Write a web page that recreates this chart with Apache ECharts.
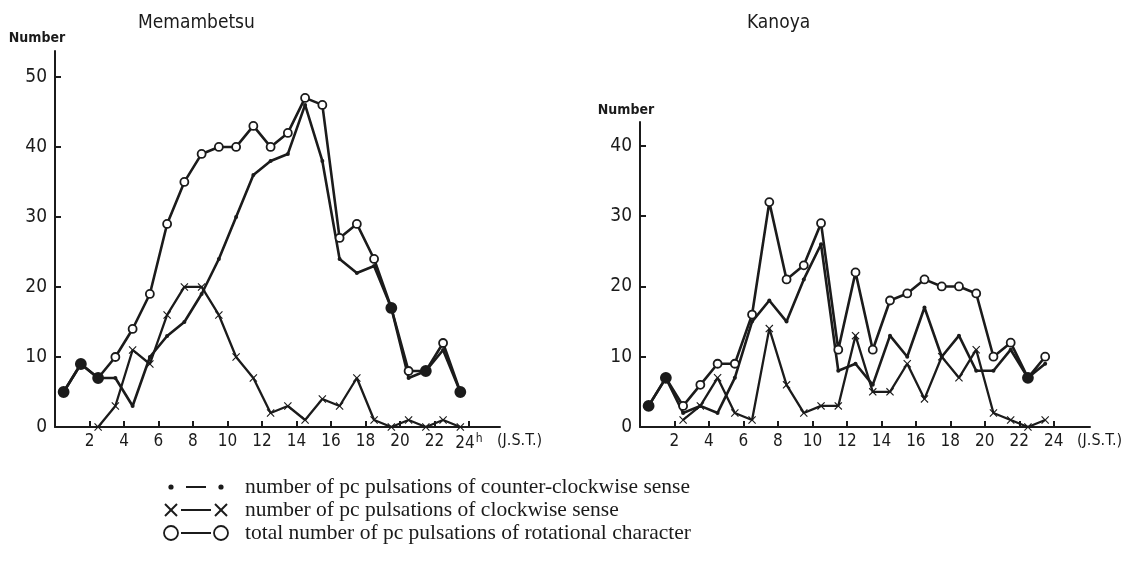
<!DOCTYPE html>
<html lang="en">

<head>
    <meta charset="UTF-8">
    <title>pc pulsations - Memambetsu / Kanoya</title>
    <style>
        html, body { margin: 0; padding: 0; background: #fff; }
        .box { width: 1142px; height: 570px; }
    </style>
</head>

<body>
    <div class="box"></div>

    <script src="https://cdn.jsdelivr.net/npm/echarts@6/dist/echarts.min.js"></script>
    <script>
        // hour of day (J.S.T.), points sit on the half hours
        let hours = [0.5, 1.5, 2.5, 3.5, 4.5, 5.5, 6.5, 7.5, 8.5, 9.5, 10.5, 11.5,
            12.5, 13.5, 14.5, 15.5, 16.5, 17.5, 18.5, 19.5, 20.5, 21.5, 22.5, 23.5]
        let xTicks = [2, 4, 6, 8, 10, 12, 14, 16, 18, 20, 22, 24]
        let memTicks = [0, 10, 20, 30, 40, 50]
        let kanTicks = [0, 10, 20, 30, 40]

        // Memambetsu
        let memTotal = [5, 9, 7, 10, 14, 19, 29, 35, 39, 40, 40, 43, 40, 42, 47, 46, 27, 29, 24, 17, 8, 8, 12, 5]
        let memCcw = [5, 9, 7, 7, 3, 10, 13, 15, 19, 24, 30, 36, 38, 39, 46, 38, 24, 22, 23, 17, 7, 8, 11, 5]
        let memCw = [null, null, 0, 3, 11, 9, 16, 20, 20, 16, 10, 7, 2, 3, 1, 4, 3, 7, 1, 0, 1, 0, 1, 0]

        // Kanoya
        let kanTotal = [3, 7, 3, 6, 9, 9, 16, 32, 21, 23, 29, 11, 22, 11, 18, 19, 21, 20, 20, 19, 10, 12, 7, 10]
        let kanCcw = [3, 7, 2, 3, 2, 7, 15, 18, 15, 21, 26, 8, 9, 6, 13, 10, 17, 10, 13, 8, 8, 11, 7, 9]
        let kanCw = [null, null, 1, 3, 7, 2, 1, 14, 6, 2, 3, 3, 13, 5, 5, 9, 4, 10, 7, 11, 2, 1, 0, 1]

        let legendTexts = [
            "number of pc pulsations of counter-clockwise sense",
            "number of pc pulsations of clockwise sense",
            "total number of pc pulsations of rotational character"
        ]

        const INK = "#1b1b1b"
        const HAND = "'Liberation Sans Narrow', 'DejaVu Sans Condensed', 'Liberation Sans', sans-serif"
        const CROSS = "path://M0,1 L1,0 L5,4 L9,0 L10,1 L6,5 L10,9 L9,10 L5,6 L1,10 L0,9 L4,5 Z"

        let myChart = echarts.init(document.querySelector(".box"))

        function pairs(arr) {
            return hours.map((h, i) => [h, arr[i] == null ? "-" : arr[i]])
        }

        // total marker is drawn filled where it coincides with the ccw point
        function totalData(total, cw) {
            return hours.map((h, i) => {
                let filled = cw[i] == null || cw[i] === 0
                return {
                    value: [h, total[i]],
                    symbolSize: filled ? 10 : 8,
                    itemStyle: { color: filled ? INK : "#fff" }
                }
            })
        }

        function xAxis(gridIndex, max, withH, nameGap) {
            return {
                type: "value",
                gridIndex: gridIndex,
                min: 0,
                max: max,
                splitLine: { show: false },
                axisLine: { lineStyle: { color: INK, width: 2 } },
                axisTick: { inside: true, length: 6, customValues: xTicks, lineStyle: { color: INK, width: 2 } },
                axisLabel: {
                    customValues: xTicks,
                    color: INK,
                    fontFamily: HAND,
                    fontSize: 17,
                    margin: 6,
                    formatter: function (v) {
                        if (withH && v === 24) return "24{h|h}"
                        return String(v)
                    },
                    rich: {
                        h: { fontFamily: HAND, fontSize: 12, color: INK, padding: [0, 0, 10, 1] }
                    }
                },
                name: "(J.S.T.)",
                nameLocation: "end",
                nameGap: nameGap,
                nameTextStyle: {
                    color: INK, fontFamily: HAND, fontSize: 16,
                    verticalAlign: "top", padding: [6, 0, 0, 0]
                }
            }
        }

        function yAxis(gridIndex, max, ticks, padRight, gap) {
            return {
                type: "value",
                gridIndex: gridIndex,
                min: 0,
                max: max,
                splitLine: { show: false },
                axisLine: { lineStyle: { color: INK, width: 2 } },
                axisTick: { inside: true, length: 6, customValues: ticks, lineStyle: { color: INK, width: 2 } },
                axisLabel: { customValues: ticks, color: INK, fontFamily: HAND, fontSize: 19, margin: 8 },
                name: "Number",
                nameLocation: "end",
                nameGap: gap,
                nameTextStyle: {
                    color: INK, fontFamily: HAND, fontSize: 14, fontWeight: "bold",
                    padding: [0, padRight, 0, 0]
                }
            }
        }

        function series(idx, total, ccw, cw) {
            return [{
                name: "ccw",
                type: "line",
                xAxisIndex: idx, yAxisIndex: idx,
                data: pairs(ccw),
                symbol: "circle",
                symbolSize: 4,
                itemStyle: { color: INK },
                lineStyle: { color: INK, width: 2.6 },
                z: 2
            }, {
                name: "cw",
                type: "line",
                xAxisIndex: idx, yAxisIndex: idx,
                data: pairs(cw),
                symbol: CROSS,
                symbolSize: 8,
                itemStyle: { color: INK },
                lineStyle: { color: INK, width: 2.3 },
                z: 3
            }, {
                name: "total",
                type: "line",
                xAxisIndex: idx, yAxisIndex: idx,
                data: totalData(total, cw),
                symbol: "circle",
                showAllSymbol: true,
                itemStyle: { borderColor: INK, borderWidth: 1.8 },
                lineStyle: { color: INK, width: 2.6 },
                z: 4
            }]
        }

        // hand made legend in the lower middle
        let rows = [487, 510, 533]
        let legendGraphic = []
        rows.forEach((y, i) => {
            legendGraphic.push({
                type: "line",
                shape: i === 0 ? { x1: 186, y1: y, x2: 206, y2: y } : { x1: 181, y1: y, x2: 211, y2: y },
                style: { stroke: INK, lineWidth: 2 }
            })
            ;[171, 221].forEach(cx => {
                if (i === 0) {
                    legendGraphic.push({ type: "circle", shape: { cx: cx, cy: y, r: 2.6 }, style: { fill: INK } })
                } else if (i === 1) {
                    legendGraphic.push({
                        type: "polyline",
                        shape: { points: [[cx - 6, y - 6], [cx + 6, y + 6]] },
                        style: { stroke: INK, lineWidth: 2 }
                    })
                    legendGraphic.push({
                        type: "polyline",
                        shape: { points: [[cx - 6, y + 6], [cx + 6, y - 6]] },
                        style: { stroke: INK, lineWidth: 2 }
                    })
                } else {
                    legendGraphic.push({
                        type: "circle", shape: { cx: cx, cy: y, r: 7 },
                        style: { fill: "#fff", stroke: INK, lineWidth: 1.8 }
                    })
                }
            })
            legendGraphic.push({
                type: "text",
                x: 245, y: y,
                style: {
                    text: legendTexts[i],
                    fill: INK,
                    font: "21.5px 'Liberation Serif', 'DejaVu Serif', serif",
                    verticalAlign: "middle"
                }
            })
        })

        option = {
            backgroundColor: "#fff",
            animation: false,
            title: [{
                text: "Memambetsu",
                left: 133, top: 9,
                textStyle: { color: INK, fontFamily: HAND, fontSize: 19, fontWeight: "normal" }
            }, {
                text: "Kanoya",
                left: 742, top: 9,
                textStyle: { color: INK, fontFamily: HAND, fontSize: 19, fontWeight: "normal" }
            }],
            grid: [
                { left: 55, top: 51, width: 445, height: 376 },
                { left: 640, top: 122, width: 450, height: 305 }
            ],
            xAxis: [xAxis(0, 25.8, true, -3), xAxis(1, 26.1, false, -13)],
            yAxis: [yAxis(0, 53.7, memTicks, 36, 6), yAxis(1, 43.4, kanTicks, 28, 5)],
            series: series(0, memTotal, memCcw, memCw).concat(series(1, kanTotal, kanCcw, kanCw)),
            graphic: legendGraphic
        }
        myChart.setOption(option)
    </script>
</body>

</html>
